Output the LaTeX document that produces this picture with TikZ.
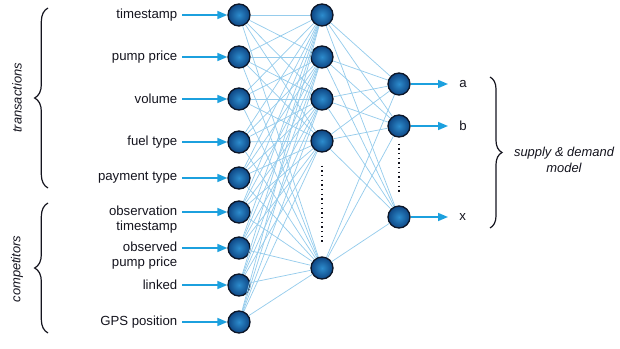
\documentclass[tikz,border=0pt]{standalone}
\usepackage{fontspec}
\setmainfont{Liberation Sans}
\usepackage{tikz}
\usetikzlibrary{arrows.meta, positioning, decorations.pathreplacing, calc}
\definecolor{netBlue}{RGB}{14,70,132}
\definecolor{netGlow}{RGB}{45,140,205}
\definecolor{netRim}{RGB}{12,22,40}
\definecolor{linkBlue}{RGB}{150,204,236}
\definecolor{feedBlue}{RGB}{28,160,222}
\definecolor{darkText}{RGB}{20,20,30}
\tikzset{
    unit/.style={circle, draw=netRim, line width=1pt, inner color=netGlow, outer color=netBlue,
                 minimum size=16.5pt, inner sep=0pt},
    inlbl/.style={font=\fontsize{9.9}{11.5}\selectfont, text=darkText, align=right},
    outlbl/.style={font=\fontsize{9.9}{11.5}\selectfont, text=darkText},
    grplbl/.style={font=\fontsize{9.7}{11.5}\selectfont\itshape, text=darkText, align=center},
    link/.style={draw=linkBlue, line width=0.55pt},
    feed/.style={-{Triangle[length=7.5pt, width=6pt]}, draw=feedBlue, fill=feedBlue, line width=1.2pt},
    gap/.style={dash pattern=on 1.1pt off 2.4pt, line width=1.2pt, draw=darkText},
    grp/.style={decorate, decoration={brace, amplitude=#1}, line width=0.9pt, draw=darkText},
    grp/.default=10pt
}

\begin{document}
\begin{tikzpicture}[x=0.75pt, y=-0.75pt]
    \useasboundingbox (0,0) rectangle (620,349);

    % input layer
    \node[unit] (in1) at (239,15) {};
    \node[unit] (in2) at (239,57) {};
    \node[unit] (in3) at (239,99) {};
    \node[unit] (in4) at (239,142) {};
    \node[unit] (in5) at (239,178) {};
    \node[unit] (in6) at (239,212) {};
    \node[unit] (in7) at (239,248) {};
    \node[unit] (in8) at (239,285) {};
    \node[unit] (in9) at (239,322) {};

    % hidden layer
    \node[unit] (h1) at (322,15) {};
    \node[unit] (h2) at (322,57) {};
    \node[unit] (h3) at (322,99) {};
    \node[unit] (h4) at (322,141) {};
    \node[unit] (h5) at (322,268) {};

    % output layer
    \node[unit] (o1) at (399,84) {};
    \node[unit] (o2) at (399,126) {};
    \node[unit] (o3) at (399,217) {};

    \foreach \i in {1,...,9}
        \foreach \j in {1,...,5}
            \draw[link] (in\i) -- (h\j);
    \foreach \j in {1,...,5}
        \foreach \k in {1,2,3}
            \draw[link] (h\j) -- (o\k);

    \draw[gap, shorten <=9.7pt, shorten >=9pt] (h4) -- (h5);
    \draw[gap, shorten <=4.5pt, shorten >=8pt] (o2) -- (o3);

    % input labels
    \node[inlbl, left=34pt of in1] (l1) {timestamp};
    \node[inlbl, left=34pt of in2] (l2) {pump price};
    \node[inlbl, left=34pt of in3] (l3) {volume};
    \node[inlbl, left=34pt of in4] (l4) {fuel type};
    \node[inlbl, left=34pt of in5] (l5) {payment type};
    \node[inlbl, left=34pt of in6, yshift=-5.6pt] (l6) {observation\\timestamp};
    \node[inlbl, left=34pt of in7, yshift=-5.8pt] (l7) {observed\\pump price};
    \node[inlbl, left=34pt of in8] (l8) {linked};
    \node[inlbl, left=34pt of in9] (l9) {GPS position};

    \foreach \i in {1,...,9}
        \draw[feed] (l\i.east |- in\i) -- (in\i);

    % outputs
    \node[outlbl, right=33pt of o1] (ya) {a};
    \node[outlbl, right=33pt of o2] (yb) {b};
    \node[outlbl, right=33pt of o3] (yx) {x};
    \draw[feed, shorten >=5pt] (o1) -- (o1 -| ya.west);
    \draw[feed, shorten >=5pt] (o2) -- (o2 -| yb.west);
    \draw[feed, shorten >=5pt] (o3) -- (o3 -| yx.west);

    % groups
    \draw[grp] (48,188) -- (48,8);
    \draw[grp] (48,333) -- (48,203);
    \draw[grp=9pt] (490,77) -- (490,228);
    \node[grplbl, rotate=90] (tx) at (17,98) {transactions};
    \node[grplbl, rotate=90] (cp) at (17,269) {competitors};
    \node[grplbl] (sd) at (564,160) {supply \& demand\\model};
\end{tikzpicture}
\end{document}
